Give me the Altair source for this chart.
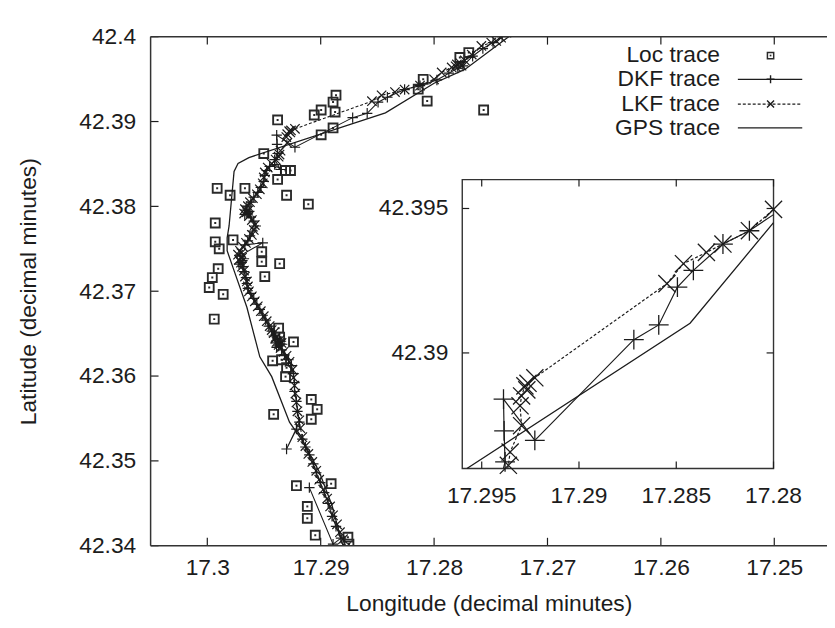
import altair as alt
import pandas as pd

# ---------------- data (decimal minutes) ----------------
loc_lon = [17.28751, 17.28760, 17.29048, 17.29118, 17.29118, 17.28908, 17.29214, 17.29415, 17.29083, 17.29031,
           17.29083, 17.29310, 17.29301, 17.29345, 17.29424, 17.29240, 17.29371, 17.29362, 17.29939, 17.29860,
           17.29983, 17.29956, 17.29904, 17.29493, 17.29362, 17.29520, 17.29520, 17.29773, 17.29895, 17.29930,
           17.29930, 17.29109, 17.29301, 17.29799, 17.29913, 17.29668, 17.29380, 17.29310, 17.29266, 17.29502,
           17.28996, 17.28891, 17.29380, 17.29057, 17.28996, 17.28873, 17.28891, 17.28865, 17.28140, 17.28096,
           17.28061, 17.27773, 17.27694, 17.27563]
loc_lat = [42.34019, 42.34101, 42.34124, 42.34323, 42.34463, 42.34731, 42.34708, 42.35549, 42.35491, 42.35608,
           42.35724, 42.35993, 42.36098, 42.36192, 42.36180, 42.36402, 42.36565, 42.36460, 42.36671, 42.36963,
           42.37044, 42.37161, 42.37266, 42.37173, 42.37325, 42.37348, 42.37465, 42.37605, 42.37500, 42.37582,
           42.37804, 42.38026, 42.38131, 42.38131, 42.38213, 42.38213, 42.38318, 42.38423, 42.38423, 42.38622,
           42.38843, 42.38925, 42.39019, 42.39077, 42.39136, 42.39112, 42.39229, 42.39311, 42.39381, 42.39498,
           42.39241, 42.39755, 42.39813, 42.39136]

dkf_lon = [17.29100, 17.28891, 17.28821, 17.28865, 17.28900, 17.28934, 17.28969, 17.29004, 17.29039, 17.29065,
           17.29100, 17.29135, 17.29162, 17.29214, 17.29301, 17.29188, 17.29205, 17.29214, 17.29231, 17.29231,
           17.29240, 17.29258, 17.29284, 17.29319, 17.29345, 17.29371, 17.29340, 17.29389, 17.29350, 17.29397,
           17.29362, 17.29415, 17.29432,
           17.29458, 17.29485, 17.29511, 17.29537, 17.29563, 17.29590, 17.29616, 17.29642, 17.29651, 17.29659,
           17.29677, 17.29686, 17.29703, 17.29720, 17.29690, 17.29677, 17.29712, 17.29511, 17.29668, 17.29642,
           17.29624, 17.29598,
           17.29572, 17.29590, 17.29616, 17.29642, 17.29670, 17.29630, 17.29659, 17.29651, 17.29616, 17.29590,
           17.29555, 17.29528,
           17.29502, 17.29493, 17.29476, 17.29450, 17.29406, 17.29354, 17.29406, 17.29380, 17.29385, 17.29388,
           17.29227, 17.28718, 17.28590, 17.28494, 17.28412, 17.28260, 17.28124, 17.27975, 17.27870, 17.27790,
           17.27745, 17.27660, 17.27570, 17.27480, 17.27400, 17.27330]
dkf_lat = [42.34685, 42.34019, 42.34089, 42.34229, 42.34346, 42.34498, 42.34626, 42.34743, 42.34860, 42.34965,
           42.35070, 42.35164, 42.35257, 42.35374, 42.35140, 42.35456, 42.35584, 42.35701, 42.35818, 42.35923,
           42.36028, 42.36122, 42.36192, 42.36250, 42.36308, 42.36355, 42.36375, 42.36338, 42.36410, 42.36390,
           42.36437, 42.36472, 42.36530,
           42.36589, 42.36659, 42.36717, 42.36787, 42.36846, 42.36916, 42.36974, 42.37033, 42.37091, 42.37161,
           42.37231, 42.37290, 42.37337, 42.37320, 42.37360, 42.37383, 42.37418, 42.37570, 42.37547, 42.37594,
           42.37652, 42.37710,
           42.37769, 42.37827, 42.37874, 42.37921, 42.37905, 42.37940, 42.37956, 42.38002, 42.38049, 42.38108,
           42.38166, 42.38224,
           42.38294, 42.38365, 42.38423, 42.38470, 42.38493, 42.38435, 42.38551, 42.38623, 42.38730, 42.38840,
           42.38697, 42.39046, 42.39097, 42.39228, 42.39286, 42.39377, 42.39423, 42.39490, 42.39570, 42.39630,
           42.39655, 42.39770, 42.39860, 42.39930, 42.40000, 42.40060]

lkf_lon = [17.28777, 17.28803, 17.28830, 17.28856, 17.28891, 17.28917, 17.28943, 17.28978, 17.29013, 17.29039,
           17.29074, 17.29109, 17.29135, 17.29162, 17.29179, 17.29188, 17.29205, 17.29214, 17.29223, 17.29231,
           17.29240, 17.29249, 17.29275, 17.29301, 17.29327, 17.29354, 17.29371, 17.29389, 17.29345, 17.29400,
           17.29362, 17.29397,
           17.29415, 17.29432, 17.29450, 17.29476, 17.29502, 17.29528, 17.29555, 17.29581, 17.29607, 17.29633,
           17.29642, 17.29651, 17.29668, 17.29677, 17.29694, 17.29703, 17.29721, 17.29694, 17.29729, 17.29700,
           17.29712,
           17.29686, 17.29659, 17.29633, 17.29607, 17.29590, 17.29581, 17.29607, 17.29633, 17.29651, 17.29675,
           17.29640, 17.29668,
           17.29642, 17.29624, 17.29598, 17.29563, 17.29537, 17.29511, 17.29502, 17.29493, 17.29467, 17.29432,
           17.29397, 17.29371, 17.29363, 17.29354, 17.29295, 17.29303, 17.29295, 17.29278, 17.29268, 17.29262,
           17.29227, 17.28548, 17.28463, 17.28345, 17.28260, 17.28124, 17.28000, 17.27933, 17.27845, 17.27799,
           17.27770, 17.27810,
           17.27758, 17.27729, 17.27668, 17.27583, 17.27496, 17.27452, 17.27409, 17.27362]
lkf_lat = [42.33984, 42.34077, 42.34159, 42.34252, 42.34358, 42.34463, 42.34556, 42.34661, 42.34778, 42.34883,
           42.34988, 42.35082, 42.35175, 42.35280, 42.35386, 42.35479, 42.35584, 42.35689, 42.35794, 42.35888,
           42.35981, 42.36075, 42.36168, 42.36238, 42.36285, 42.36332, 42.36367, 42.36402, 42.36390, 42.36440,
           42.36425, 42.36460,
           42.36507, 42.36542, 42.36589, 42.36647, 42.36706, 42.36764, 42.36822, 42.36881, 42.36939, 42.36998,
           42.37056, 42.37115, 42.37173, 42.37243, 42.37290, 42.37337, 42.37372, 42.37395, 42.37430, 42.37450,
           42.37477,
           42.37523, 42.37570, 42.37617, 42.37664, 42.37722, 42.37780, 42.37839, 42.37886, 42.37932, 42.37915,
           42.37950, 42.37967,
           42.38002, 42.38049, 42.38096, 42.38143, 42.38201, 42.38271, 42.38341, 42.38400, 42.38458, 42.38505,
           42.38551, 42.38586, 42.38611, 42.38657, 42.38748, 42.38817, 42.38851, 42.38886, 42.38872, 42.38895,
           42.38914, 42.39240, 42.39309, 42.39348, 42.39377, 42.39423, 42.39497, 42.39579, 42.39638, 42.39673,
           42.39690, 42.39650,
           42.39658, 42.39720, 42.39790, 42.39891, 42.39930, 42.39950, 42.39988, 42.40047]

gps_lon = [17.28800, 17.28821, 17.28900, 17.29013, 17.29153, 17.29275, 17.29432, 17.29537, 17.29651, 17.29764,
           17.29825, 17.29825, 17.29808, 17.29764, 17.29729, 17.29633, 17.28429, 17.28000, 17.27729, 17.27354,
           17.27180]
gps_lat = [42.33990, 42.34077, 42.34474, 42.34872, 42.35222, 42.35456, 42.35993, 42.36227, 42.36811, 42.37243,
           42.37477, 42.37629, 42.37769, 42.38411, 42.38505, 42.38575, 42.39103, 42.39451, 42.39614, 42.39988,
           42.40130]

# axis ticks
main_xticks = [17.3, 17.29, 17.28, 17.27, 17.26, 17.25]
main_yticks = [42.34, 42.35, 42.36, 42.37, 42.38, 42.39, 42.4]
inset_xticks = [17.295, 17.29, 17.285, 17.28]
inset_xlabels = ["17.295", "17.29", "17.285", "17.28"]
inset_yticks = [42.395, 42.39]
inset_ylabels = ["42.395", "42.39"]
inset_xdomain = [17.28, 17.296]
inset_ydomain = [42.386, 42.396]

series_names = ["Loc trace", "DKF trace", "LKF trace", "GPS trace"]

# ---------------- layout / style ----------------
FONT = "Liberation Sans"
FS = 23
INK = "#1c1c1c"
W, H = 683, 514
IL, IR, IT, IB = 314.7, 629.0, 144.3, 436.0   # inset box inside plot area (px)
PLUS = "M-1,0L1,0M0,-1L0,1"
XMARK = "M-1,-1L1,1M-1,1L1,-1"

main_x_scale = alt.Scale(domain=[17.24535, 17.305], reverse=True, nice=False, zero=False)
main_y_scale = alt.Scale(domain=[42.34, 42.40], nice=False, zero=False)
inset_x_scale = alt.Scale(domain=inset_xdomain, range=[IR, IL], nice=False, zero=False)
inset_y_scale = alt.Scale(domain=inset_ydomain, range=[IB, IT], nice=False, zero=False)

axis_common = dict(grid=False, ticks=False, tickSize=0, domain=False, labelFontSize=FS, titleFontSize=FS,
                   labelFont=FONT, titleFont=FONT, labelColor=INK, titleColor=INK, titleFontWeight="normal",
                   format="~g", labelFlush=False, labelOverlap=False)
x_axis = alt.Axis(values=main_xticks, title="Longitude (decimal minutes)", labelPadding=11, titlePadding=13,
                  **axis_common)
y_axis = alt.Axis(values=main_yticks, title="Latitude (decimal minutes)", labelPadding=15, titlePadding=39,
                  **axis_common)


def mx(f):
    return alt.X(f"{f}:Q", scale=main_x_scale, axis=x_axis)


def my(f):
    return alt.Y(f"{f}:Q", scale=main_y_scale, axis=y_axis)


def ix(f):
    return alt.X(f"{f}:Q", scale=inset_x_scale, axis=None)


def iy(f):
    return alt.Y(f"{f}:Q", scale=inset_y_scale, axis=None)


def series_df(lon, lat):
    return pd.DataFrame({"lon": lon, "lat": lat, "i": range(len(lon))})


def clip_polyline(lon, lat, xmin, xmax, ymin, ymax):
    rows, seg, last_end, idx = [], -1, None, 0
    for k in range(len(lon) - 1):
        x0, y0, x1, y1 = lon[k], lat[k], lon[k + 1], lat[k + 1]
        dx, dy = x1 - x0, y1 - y0
        u0, u1, ok = 0.0, 1.0, True
        for p, q in ((-dx, x0 - xmin), (dx, xmax - x0), (-dy, y0 - ymin), (dy, ymax - y0)):
            if p == 0:
                if q < 0:
                    ok = False
            else:
                t = q / p
                if p < 0:
                    u0 = max(u0, t)
                else:
                    u1 = min(u1, t)
        if not ok or u0 > u1:
            last_end = None
            continue
        a = (x0 + u0 * dx, y0 + u0 * dy)
        b = (x0 + u1 * dx, y0 + u1 * dy)
        if last_end is None or u0 > 0:
            seg += 1
            rows.append({"lon": a[0], "lat": a[1], "seg": seg, "i": idx}); idx += 1
        rows.append({"lon": b[0], "lat": b[1], "seg": seg, "i": idx}); idx += 1
        last_end = b if u1 >= 1 else None
    return pd.DataFrame(rows)


def inside(lon, lat):
    d = series_df(lon, lat)
    return d[(d.lon >= inset_xdomain[0]) & (d.lon <= inset_xdomain[1]) &
             (d.lat >= inset_ydomain[0]) & (d.lat <= inset_ydomain[1])]


loc_df = series_df(loc_lon, loc_lat)
dkf_df = series_df(dkf_lon, dkf_lat)
lkf_df = series_df(lkf_lon, lkf_lat)
gps_df = series_df(gps_lon, gps_lat)
one = pd.DataFrame({"k": [0]})

# ---------------- main plot ----------------
gps_line = alt.Chart(gps_df).mark_line(color=INK, strokeWidth=1.3, clip=True).encode(
    x=mx("lon"), y=my("lat"), order="i:Q")
dkf_line = alt.Chart(dkf_df).mark_line(color=INK, strokeWidth=1.1, clip=True).encode(
    x=mx("lon"), y=my("lat"), order="i:Q")
lkf_line = alt.Chart(lkf_df).mark_line(color=INK, strokeWidth=1.1, strokeDash=[3, 2], clip=True).encode(
    x=mx("lon"), y=my("lat"), order="i:Q")
dkf_pts = alt.Chart(dkf_df).mark_point(shape=PLUS, filled=False, color=INK, strokeWidth=1.2, size=110,
                                       opacity=1, clip=True).encode(x=mx("lon"), y=my("lat"))
lkf_pts = alt.Chart(lkf_df).mark_point(shape=XMARK, filled=False, color=INK, strokeWidth=1.2, size=90,
                                       opacity=1, clip=True).encode(x=mx("lon"), y=my("lat"))
loc_sq = alt.Chart(loc_df).mark_point(shape="square", filled=False, color="#2a2a2a", strokeWidth=1.9, size=81,
                                      opacity=1, clip=True).encode(x=mx("lon"), y=my("lat"))
loc_dot = alt.Chart(loc_df).mark_point(shape="square", filled=True, color="#2a2a2a", size=4,
                                       opacity=1, clip=True).encode(x=mx("lon"), y=my("lat"))

xt_df = pd.DataFrame({"v": main_xticks})
yt_df = pd.DataFrame({"v": main_yticks})
tick_style = dict(color=INK, strokeWidth=1.2)
ticks_main = [
    alt.Chart(xt_df).mark_rule(**tick_style).encode(x=mx("v"), y=alt.value(H), y2=alt.value(H - 8)),
    alt.Chart(xt_df).mark_rule(**tick_style).encode(x=mx("v"), y=alt.value(0), y2=alt.value(8)),
    alt.Chart(yt_df).mark_rule(**tick_style).encode(y=my("v"), x=alt.value(0), x2=alt.value(8)),
]
frame_style = dict(color="#333333", strokeWidth=1.5)
frame = [
    alt.Chart(one).mark_rule(**frame_style).encode(x=alt.value(0), y=alt.value(0), y2=alt.value(H)),
    alt.Chart(one).mark_rule(**frame_style).encode(x=alt.value(0), x2=alt.value(W), y=alt.value(0)),
    alt.Chart(one).mark_rule(**frame_style).encode(x=alt.value(0), x2=alt.value(W), y=alt.value(H)),
]

# legend (gnuplot style: label left, sample right)
LX_TEXT, LX0, LX1, LXM = 575, 593, 658, 626
rows_y = [19, 43, 68, 92]
legend = []
for name, yy in zip(series_names, rows_y):
    legend.append(alt.Chart(one).mark_text(text=name, align="right", baseline="middle", font=FONT,
                                           fontSize=FS, color=INK).encode(x=alt.value(LX_TEXT), y=alt.value(yy)))
legend += [
    alt.Chart(one).mark_point(shape="square", filled=False, color="#2a2a2a", strokeWidth=1.5, size=40,
                              opacity=1).encode(x=alt.value(LXM), y=alt.value(rows_y[0])),
    alt.Chart(one).mark_point(shape="square", filled=True, color="#2a2a2a", size=3,
                              opacity=1).encode(x=alt.value(LXM), y=alt.value(rows_y[0])),
    alt.Chart(one).mark_rule(color=INK, strokeWidth=1.2).encode(x=alt.value(LX0), x2=alt.value(LX1),
                                                                y=alt.value(rows_y[1])),
    alt.Chart(one).mark_point(shape=PLUS, filled=False, color=INK, strokeWidth=1.4, size=64,
                              opacity=1).encode(x=alt.value(LXM), y=alt.value(rows_y[1])),
    alt.Chart(one).mark_rule(color=INK, strokeWidth=1.2, strokeDash=[3, 2]).encode(
        x=alt.value(LX0), x2=alt.value(LX1), y=alt.value(rows_y[2])),
    alt.Chart(one).mark_point(shape=XMARK, filled=False, color=INK, strokeWidth=1.4, size=50,
                              opacity=1).encode(x=alt.value(LXM), y=alt.value(rows_y[2])),
    alt.Chart(one).mark_rule(color=INK, strokeWidth=1.3).encode(x=alt.value(LX0), x2=alt.value(LX1),
                                                                y=alt.value(rows_y[3])),
]

main = alt.layer(loc_sq, loc_dot, gps_line, dkf_line, lkf_line, dkf_pts, lkf_pts, *ticks_main, *frame, *legend)

# ---------------- inset ----------------
box = (inset_xdomain[0], inset_xdomain[1], inset_ydomain[0], inset_ydomain[1])
gps_in = clip_polyline(gps_lon, gps_lat, *box)
dkf_in = clip_polyline(dkf_lon, dkf_lat, *box)
lkf_in = clip_polyline(lkf_lon, lkf_lat, *box)

inset_bg = alt.Chart(one).mark_rect(fill="white", stroke="#333333", strokeWidth=1.4).encode(
    x=alt.value(IL), x2=alt.value(IR), y=alt.value(IT), y2=alt.value(IB))
i_gps = alt.Chart(gps_in).mark_line(color=INK, strokeWidth=1.3).encode(
    x=ix("lon"), y=iy("lat"), detail="seg:N", order="i:Q")
i_dkf = alt.Chart(dkf_in).mark_line(color=INK, strokeWidth=1.2).encode(
    x=ix("lon"), y=iy("lat"), detail="seg:N", order="i:Q")
i_lkf = alt.Chart(lkf_in).mark_line(color=INK, strokeWidth=1.2, strokeDash=[3, 2]).encode(
    x=ix("lon"), y=iy("lat"), detail="seg:N", order="i:Q")
i_dkf_pts = alt.Chart(inside(dkf_lon, dkf_lat)).mark_point(
    shape=PLUS, filled=False, color=INK, strokeWidth=1.3, size=400, opacity=1).encode(x=ix("lon"), y=iy("lat"))
i_lkf_pts = alt.Chart(inside(lkf_lon, lkf_lat)).mark_point(
    shape=XMARK, filled=False, color=INK, strokeWidth=1.3, size=300, opacity=1).encode(x=ix("lon"), y=iy("lat"))

ixt_df = pd.DataFrame({"v": inset_xticks, "lab": inset_xlabels})
iyt_df = pd.DataFrame({"v": inset_yticks, "lab": inset_ylabels})
inset_ticks = [
    alt.Chart(ixt_df).mark_rule(**tick_style).encode(x=ix("v"), y=alt.value(IB), y2=alt.value(IB - 7)),
    alt.Chart(ixt_df).mark_rule(**tick_style).encode(x=ix("v"), y=alt.value(IT), y2=alt.value(IT + 7)),
    alt.Chart(iyt_df).mark_rule(**tick_style).encode(y=iy("v"), x=alt.value(IL), x2=alt.value(IL + 7)),
    alt.Chart(iyt_df).mark_rule(**tick_style).encode(y=iy("v"), x=alt.value(IR), x2=alt.value(IR - 7)),
]
inset_labels = [
    alt.Chart(ixt_df).mark_text(align="center", baseline="middle", font=FONT, fontSize=FS, color=INK).encode(
        x=ix("v"), y=alt.value(IB + 28), text="lab:N"),
    alt.Chart(iyt_df).mark_text(align="right", baseline="middle", font=FONT, fontSize=FS, color=INK).encode(
        y=iy("v"), x=alt.value(IL - 14), text="lab:N"),
]

inset = alt.layer(inset_bg, i_gps, i_dkf, i_lkf, i_dkf_pts, i_lkf_pts, *inset_ticks, *inset_labels)

chart = alt.layer(main, inset).resolve_scale(x="independent", y="independent").properties(
    width=W, height=H,
    autosize=alt.AutoSizeParams(type="none"),
    padding={"left": 144, "top": 26, "right": 0, "bottom": 70},
    background="white",
).configure_view(stroke=None)

chart.save("out.html", embed_options={"renderer": "svg", "actions": False})
